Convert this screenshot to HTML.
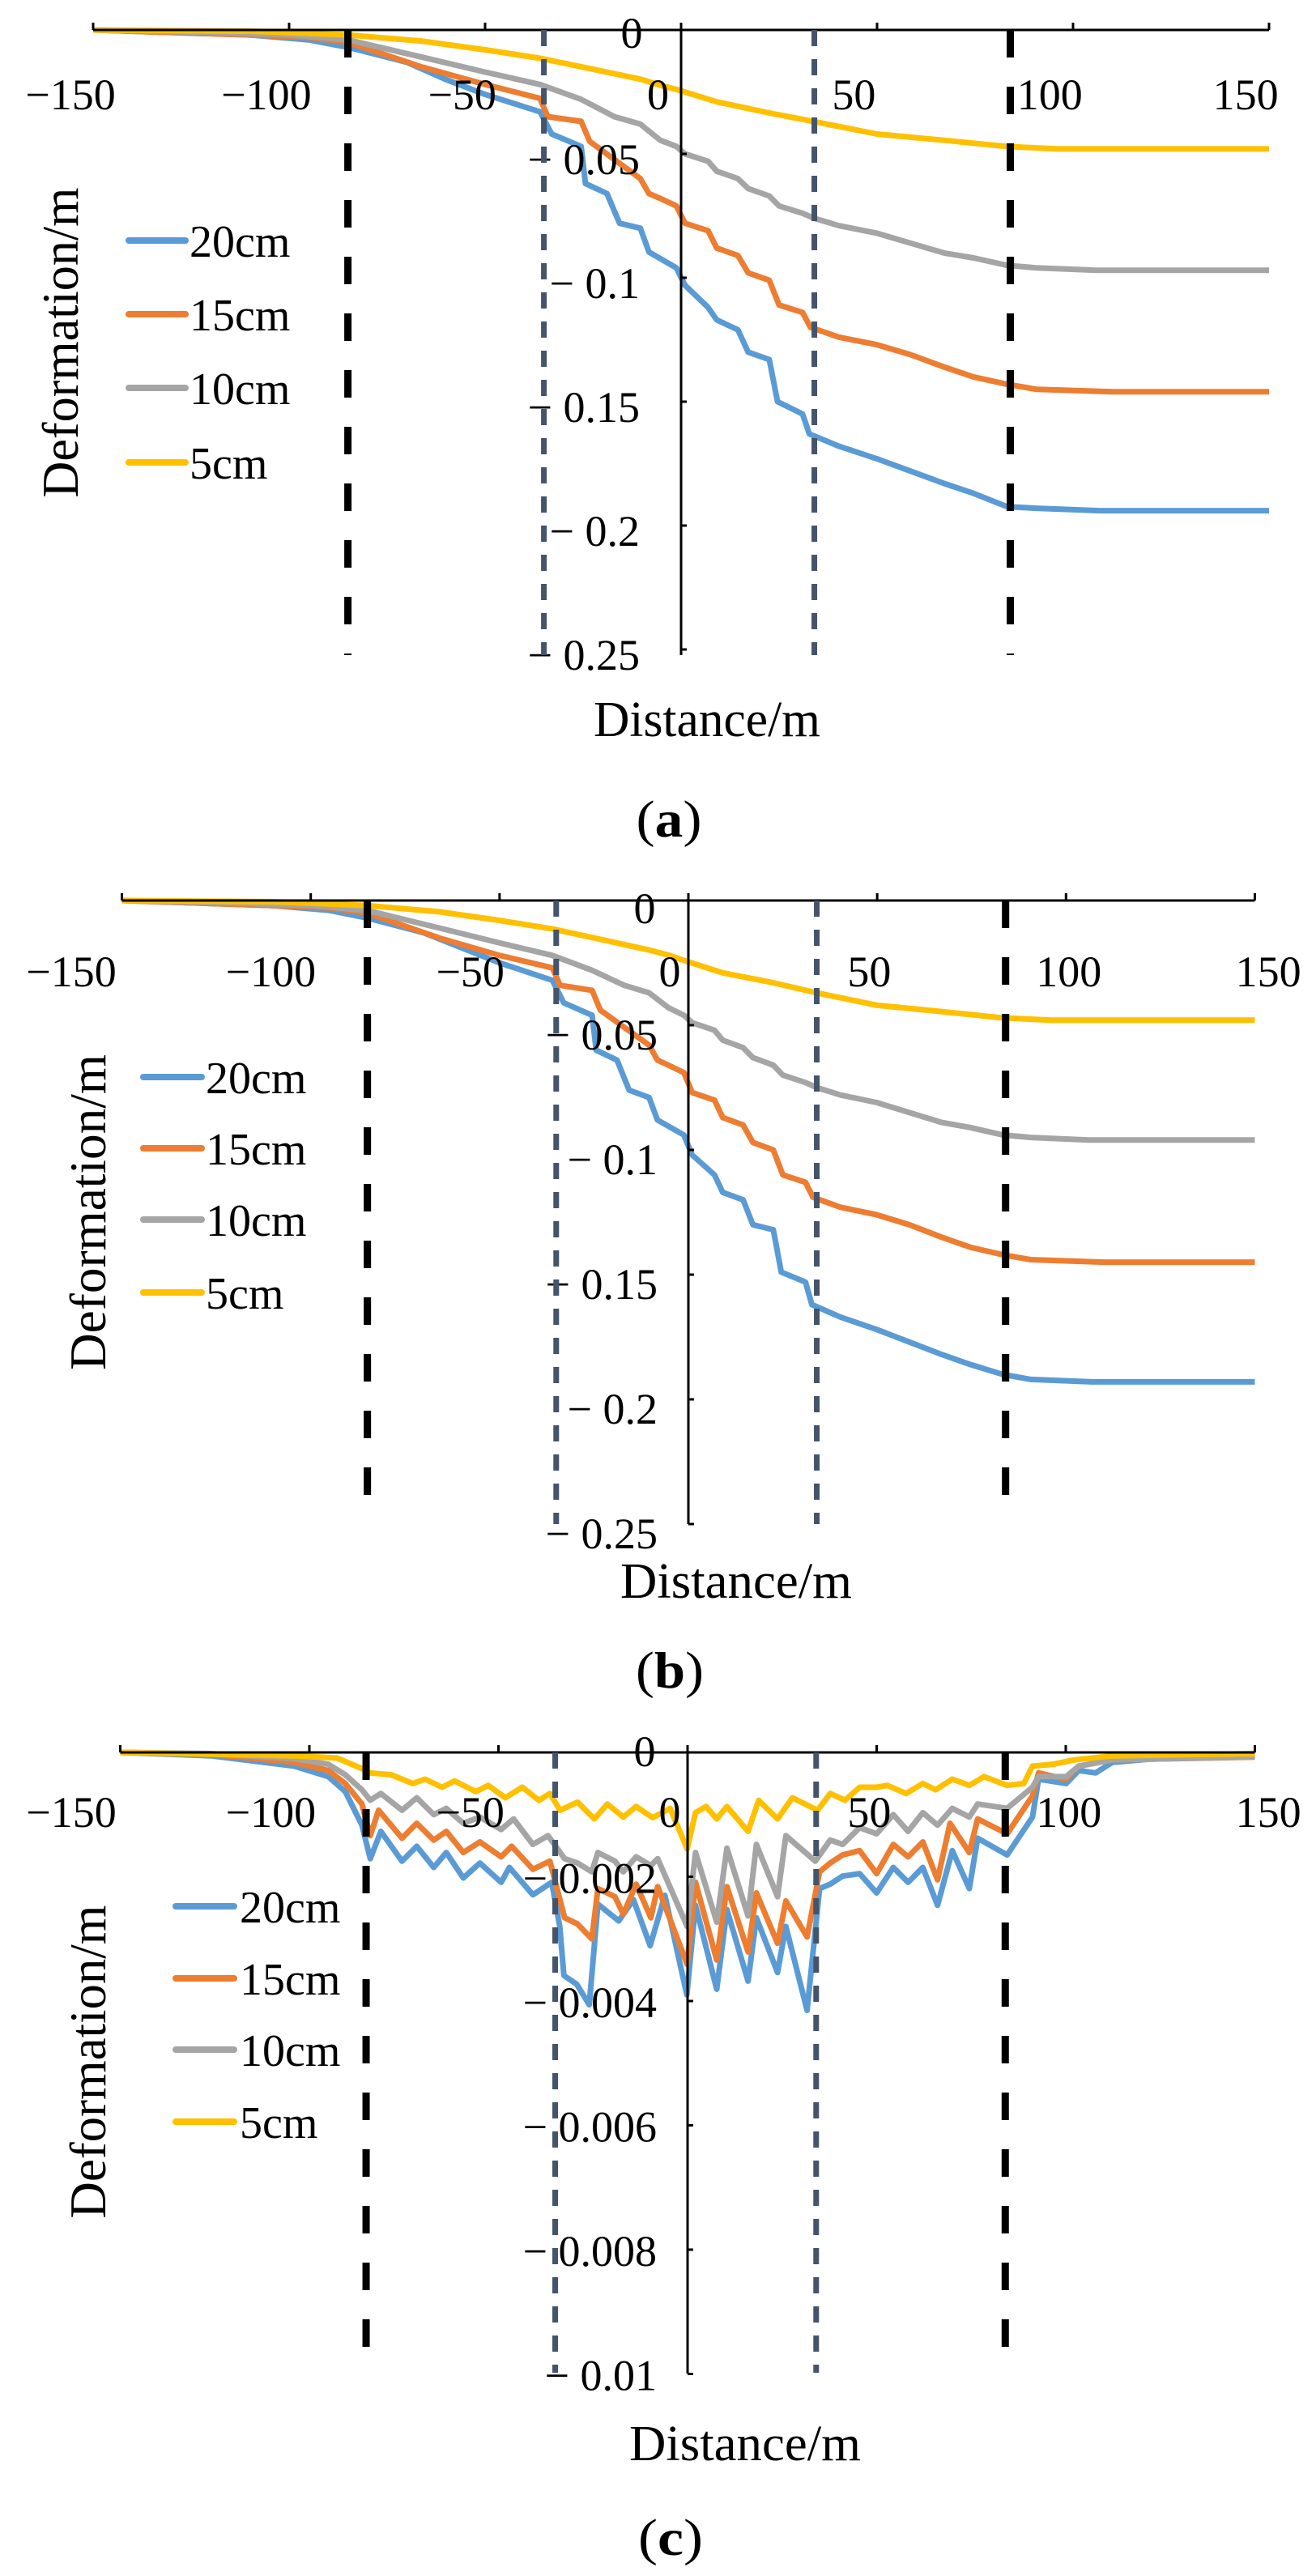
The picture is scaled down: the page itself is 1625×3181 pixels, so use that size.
<!DOCTYPE html>
<html><head><meta charset="utf-8">
<style>
html,body{margin:0;padding:0;background:#fff;}
svg{display:block;}
svg text{font-family:"Liberation Serif","DejaVu Serif",serif;fill:#000;}
</style></head>
<body>
<svg id="fig" width="1625" height="3181" viewBox="0 0 1625 3181" xmlns="http://www.w3.org/2000/svg" font-family="Liberation Serif, DejaVu Serif, serif"></svg>
<script>
// ---------- shared data ----------
const xTicks = [-150,-100,-50,0,50,100,150];
const seriesNames = ['20cm','15cm','10cm','5cm'];
const seriesColors = ['#5b9bd5','#ed7d31','#a5a5a5','#ffc000'];
const blackLines = [-85, 84];
const greyLines = [-35, 34];

// ---------- chart (a) ----------
const yTicksA = [0,-0.05,-0.1,-0.15,-0.2,-0.25];
const blueA = [[-150,0],[-130,-0.001],[-110,-0.002],[-95,-0.004],[-85,-0.007],[-70,-0.013],[-60,-0.020],[-50,-0.026],[-40,-0.031],[-36,-0.033],[-33,-0.042],[-25.5,-0.047],[-24.4,-0.062],[-18.9,-0.066],[-15.7,-0.078],[-10.4,-0.080],[-8.2,-0.0896],[-1.2,-0.096],[1,-0.103],[6.9,-0.112],[9.1,-0.117],[14.5,-0.121],[17.1,-0.130],[22.5,-0.133],[24.6,-0.150],[31,-0.155],[32.7,-0.163],[40.3,-0.168],[49.9,-0.173],[58.5,-0.178],[67.1,-0.183],[74.6,-0.187],[83.2,-0.1924],[90.7,-0.193],[106.8,-0.194],[150,-0.194]];
const orangeA = [[-150,0],[-130,-0.001],[-110,-0.002],[-95,-0.003],[-85,-0.005],[-66,-0.015],[-50,-0.022],[-36,-0.0276],[-34,-0.035],[-25.5,-0.0369],[-23.3,-0.045],[-10.4,-0.060],[-8.2,-0.066],[-5.3,-0.068],[-1.2,-0.071],[1,-0.078],[6.9,-0.081],[9.1,-0.088],[14.5,-0.091],[17.1,-0.098],[22.5,-0.101],[25,-0.111],[31,-0.114],[33,-0.120],[40.3,-0.124],[49.9,-0.127],[58.5,-0.131],[67.1,-0.136],[74.6,-0.140],[83.2,-0.143],[90.7,-0.145],[110,-0.146],[150,-0.146]];
const grayA = [[-150,0],[-120,-0.001],[-100,-0.002],[-85,-0.004],[-66,-0.011],[-50,-0.017],[-36,-0.022],[-25.5,-0.028],[-17,-0.035],[-10.4,-0.038],[-5.3,-0.0445],[-1.2,-0.047],[1,-0.050],[6.9,-0.053],[9.1,-0.057],[14.5,-0.060],[17.1,-0.064],[22.5,-0.067],[25,-0.071],[31,-0.074],[34,-0.076],[40.3,-0.079],[49.9,-0.082],[58.5,-0.086],[67.1,-0.090],[74.6,-0.092],[83.2,-0.095],[90.7,-0.096],[106,-0.097],[150,-0.097]];
const yellowA = [[-150,0],[-110,-0.0005],[-85,-0.002],[-66,-0.0045],[-50,-0.008],[-36,-0.0114],[-25,-0.015],[-10,-0.020],[-5,-0.0225],[-1.2,-0.024],[9.1,-0.029],[22.5,-0.0335],[34,-0.037],[50,-0.042],[67,-0.0445],[83,-0.047],[96,-0.048],[150,-0.048]];

// ---------- chart (b) ----------
const yTicksB = [0,-0.05,-0.1,-0.15,-0.2,-0.25];
const blueB = [[-150,0],[-130,-0.001],[-110,-0.002],[-95,-0.004],[-85,-0.007],[-70,-0.013],[-60,-0.019],[-50,-0.025],[-40,-0.030],[-36,-0.032],[-33,-0.041],[-25.5,-0.046],[-24.4,-0.060],[-18.9,-0.064],[-15.7,-0.076],[-10.4,-0.079],[-8.2,-0.088],[-1.2,-0.094],[1,-0.102],[6.9,-0.110],[9.1,-0.117],[14.5,-0.120],[17.1,-0.130],[22.5,-0.132],[24.6,-0.149],[31,-0.153],[32.7,-0.162],[40.3,-0.167],[49.9,-0.172],[58.5,-0.177],[67.1,-0.182],[74.6,-0.186],[83.2,-0.190],[90.7,-0.192],[106.8,-0.193],[150,-0.193]];
const orangeB = [[-150,0],[-130,-0.001],[-110,-0.002],[-95,-0.003],[-85,-0.005],[-66,-0.015],[-50,-0.022],[-36,-0.027],[-34,-0.034],[-25.5,-0.036],[-23.3,-0.044],[-10.4,-0.058],[-8.2,-0.064],[-5.3,-0.066],[-1.2,-0.069],[1,-0.077],[6.9,-0.080],[9.1,-0.087],[14.5,-0.090],[17.1,-0.097],[22.5,-0.100],[25,-0.110],[31,-0.113],[33,-0.119],[40.3,-0.123],[49.9,-0.126],[58.5,-0.130],[67.1,-0.135],[74.6,-0.139],[83.2,-0.142],[90.7,-0.144],[110,-0.145],[150,-0.145]];
const grayB = [[-150,0],[-120,-0.001],[-100,-0.002],[-85,-0.004],[-66,-0.011],[-50,-0.017],[-36,-0.022],[-25.5,-0.028],[-17,-0.034],[-10.4,-0.037],[-5.3,-0.043],[-1.2,-0.046],[1,-0.049],[6.9,-0.052],[9.1,-0.056],[14.5,-0.059],[17.1,-0.063],[22.5,-0.066],[25,-0.070],[31,-0.073],[34,-0.075],[40.3,-0.078],[49.9,-0.081],[58.5,-0.085],[67.1,-0.089],[74.6,-0.091],[83.2,-0.094],[90.7,-0.095],[106,-0.096],[150,-0.096]];
const yellowB = [[-150,0],[-110,-0.0005],[-85,-0.002],[-66,-0.0045],[-50,-0.008],[-36,-0.0114],[-25,-0.015],[-10,-0.020],[-5,-0.022],[-1.2,-0.024],[9.1,-0.029],[22.5,-0.033],[34,-0.037],[50,-0.042],[67,-0.0445],[83,-0.047],[96,-0.048],[150,-0.048]];

// ---------- chart (c) ----------
const yTicksC = [0,-0.002,-0.004,-0.006,-0.008,-0.01];
const blueC = [[-150,0],[-126,-0.000055],[-104,-0.00022],[-95,-0.00039],[-90.5,-0.00063],[-86.1,-0.00117],[-83.9,-0.00171],[-81.1,-0.00127],[-75.5,-0.00175],[-71.6,-0.00151],[-67.1,-0.00185],[-63.8,-0.00161],[-59.3,-0.00202],[-54.9,-0.00178],[-49.3,-0.00209],[-47.1,-0.00185],[-40.9,-0.00229],[-35.9,-0.00209],[-33.8,-0.00280],[-32.7,-0.00359],[-29.3,-0.00373],[-26,-0.00406],[-23.7,-0.00244],[-18.2,-0.00271],[-14.3,-0.00237],[-9.9,-0.00311],[-6,-0.00230],[-0.2,-0.00390],[2.1,-0.00246],[7.7,-0.00381],[10.4,-0.00253],[16,-0.00368],[18.2,-0.00266],[23.8,-0.00354],[26,-0.00280],[31.6,-0.00415],[34.9,-0.00219],[37.7,-0.00212],[41,-0.00199],[45.5,-0.00195],[50,-0.00226],[54.4,-0.00185],[58.3,-0.00209],[62.2,-0.00185],[66.1,-0.00246],[70,-0.00158],[74.5,-0.00219],[76.7,-0.00138],[84.5,-0.00165],[91.2,-0.00104],[92.8,-0.00043],[100.1,-0.00050],[103.4,-0.00029],[107.9,-0.00033],[112.3,-0.00016],[125.7,-0.00009],[150,-0.000055]];
const orangeC = [[-150,0],[-126,-0.00003],[-104,-0.00016],[-95,-0.00029],[-90.5,-0.00050],[-86.1,-0.00083],[-83.9,-0.00134],[-81.7,-0.00093],[-75.5,-0.00138],[-71.6,-0.00114],[-67.1,-0.00141],[-63.8,-0.00127],[-59.3,-0.00161],[-54.9,-0.00144],[-49.3,-0.00168],[-46.5,-0.00151],[-40.9,-0.00188],[-36.4,-0.00175],[-32.5,-0.00266],[-29.1,-0.00276],[-25.3,-0.00300],[-23.7,-0.00219],[-19.2,-0.00232],[-17,-0.00260],[-13.6,-0.00212],[-9.7,-0.00266],[-7.9,-0.00216],[-0.1,-0.00341],[2.1,-0.00209],[7.7,-0.00334],[10.4,-0.00216],[16,-0.00321],[18.2,-0.00226],[23.8,-0.00307],[26,-0.00239],[31.6,-0.00297],[34.9,-0.00192],[37.7,-0.00178],[41,-0.00165],[45.5,-0.00158],[50,-0.00195],[54.4,-0.00148],[58.3,-0.00168],[62.2,-0.00144],[66.1,-0.00205],[69.4,-0.00114],[74.5,-0.00161],[76.7,-0.00107],[84.5,-0.00131],[91.2,-0.00070],[92.8,-0.00033],[100.1,-0.00043],[103.4,-0.00022],[112.3,-0.00012],[150,-0.000075]];
const grayC = [[-150,0],[-126,-0.00002],[-104,-0.00010],[-95,-0.00019],[-90.5,-0.00036],[-86.1,-0.00060],[-83.9,-0.00077],[-81.1,-0.00066],[-75.5,-0.00093],[-71.6,-0.00073],[-67.1,-0.00100],[-63.8,-0.00090],[-59.3,-0.00114],[-54.9,-0.00104],[-49.3,-0.00124],[-46,-0.00107],[-40.9,-0.00148],[-36.9,-0.00134],[-32.5,-0.00171],[-29.1,-0.00178],[-25.3,-0.00192],[-23.7,-0.00161],[-19.2,-0.00175],[-17,-0.00192],[-13.6,-0.00168],[-9.7,-0.00182],[-7.9,-0.00171],[-0.1,-0.00280],[2.1,-0.00161],[7.7,-0.00273],[10.4,-0.00154],[16,-0.00263],[18.2,-0.00148],[23.8,-0.00232],[26,-0.00134],[33.8,-0.00175],[37.7,-0.00141],[41,-0.00148],[45.5,-0.00121],[50,-0.00131],[54.4,-0.00100],[58.3,-0.00127],[62.2,-0.00097],[66.1,-0.00117],[70,-0.00090],[74.5,-0.00104],[76.7,-0.00083],[84.5,-0.00090],[91.2,-0.00056],[92.8,-0.00039],[100.1,-0.00039],[103.4,-0.00022],[112.3,-0.00012],[150,-0.00007]];
const yellowC = [[-150,0],[-104,-0.000055],[-92.7,-0.00009],[-86.1,-0.00026],[-83.9,-0.00033],[-78.3,-0.00036],[-72.7,-0.00050],[-69.4,-0.00043],[-64.9,-0.00056],[-61.6,-0.00046],[-56,-0.00063],[-52.7,-0.00053],[-48.2,-0.00073],[-43.7,-0.00056],[-39.3,-0.00077],[-36.4,-0.00066],[-33.7,-0.00093],[-29.1,-0.00080],[-24.6,-0.00107],[-21.2,-0.00083],[-17,-0.00104],[-13.6,-0.00087],[-9.2,-0.00105],[-4.6,-0.00090],[-0.1,-0.00155],[2.1,-0.00097],[4.9,-0.00087],[7.7,-0.00107],[10.4,-0.00087],[16,-0.00127],[18.8,-0.00077],[23.8,-0.00107],[27.7,-0.00073],[34.4,-0.00093],[37.7,-0.00066],[41.6,-0.00077],[45.5,-0.00056],[50,-0.00056],[52.8,-0.00053],[57.8,-0.00066],[62.2,-0.00050],[65.6,-0.00060],[70,-0.00043],[74.5,-0.00053],[78.4,-0.00039],[84.5,-0.00053],[88.9,-0.00050],[91.2,-0.00022],[96.7,-0.00019],[102.3,-0.00012],[112.3,-0.000055],[150,-0.00002]];

// ---------- drawing ----------
const NS = 'http://www.w3.org/2000/svg';
const FONT = '"Liberation Serif", "DejaVu Serif", serif';
const svg = document.getElementById('fig');
function mk(tag, attrs, parent){
  const e = document.createElementNS(NS, tag);
  for (const k in attrs) e.setAttribute(k, attrs[k]);
  if (tag === 'text') e.setAttribute('font-family', FONT);
  (parent||svg).appendChild(e);
  return e;
}
function fmt(v, dec){ return v===0 ? '0' : '\u2212 ' + Math.abs(v).toFixed(dec).replace(/0+$/,'').replace(/\.$/,''); }

const charts = [
  {id:'a', x0:841, sx:4.84, y0:37, sy:3060, bottom:809, yTicks:yTicksA, dec:2,
   series:[blueA,orangeA,grayA,yellowA], lab0:87, labS:4.837, labY:117, yLabRight:790, yLabOff:7, zero:[780,41],
   leg:[159,229,234,[297,388,479,571]], title:[75,423,383], dist:[873,889,280], cap:[826,1011,81,'(a)'], blackEnd:809, greyEnd:809},
  {id:'b', x0:850, sx:4.663, y0:1112, sy:3080, bottom:1882, yTicks:yTicksB, dec:2,
   series:[blueB,orangeB,grayB,yellowB], lab0:88, labS:4.927, labY:1200, yLabRight:812, yLabOff:12, zero:[796,1122],
   leg:[177,249,254,[1330,1418,1506,1596]], title:[109,1497,390], dist:[909,1953,286], cap:[827,2062,84,'(b)'], blackEnd:1855, greyEnd:1882},
  {id:'c', x0:849, sx:4.67, y0:2164, sy:76750, bottom:2931, yTicks:yTicksC, dec:3,
   series:[blueC,orangeC,grayC,yellowC], lab0:88, labS:4.927, labY:2238, yLabRight:811, yLabOff:2, zero:[796,2163],
   leg:[217,289,296,[2354,2443,2531,2620]], title:[109,2546,387], dist:[920,3018,286], cap:[828,3133,80,'(c)'], blackEnd:2904, greyEnd:2930}
];

charts.forEach(c => {
  const X = v => c.x0 + v*c.sx;
  const Y = v => c.y0 - v*c.sy;
  const g = mk('g', {});
  
  

  // series lines
  c.series.forEach((s, i) => {
    const p = mk('polyline', {points: s.map(d => X(d[0]).toFixed(1)+','+Y(d[1]).toFixed(1)).join(' '),
      fill:'none', stroke:seriesColors[i], 'stroke-width':7, 'stroke-linejoin':'round'}, g);
    
    
  });

  // x axis
  const xa = mk('line', {x1:X(-150), y1:c.y0, x2:X(150), y2:c.y0, stroke:'#000', 'stroke-width':3}, g);
  
  
  xTicks.forEach(t => {
    const tk = mk('line', {x1:X(t), y1:c.y0, x2:X(t), y2:c.y0-9, stroke:'#000', 'stroke-width':3}, g);
    
    
    const tl = mk('text', {x:c.lab0 + (t+150)*c.labS, y:c.labY, 'font-size':54, 'text-anchor':'middle', 'dominant-baseline':'central'}, g);
    tl.textContent = t < 0 ? '\u2212' + Math.abs(t) : String(t);
    
    
  });

  // y axis
  const ya = mk('line', {x1:X(0), y1:c.y0, x2:X(0), y2:c.bottom, stroke:'#000', 'stroke-width':3}, g);
  
  
  c.yTicks.forEach(t => {
    const tk = mk('line', {x1:X(0), y1:Y(t), x2:X(0)+7, y2:Y(t), stroke:'#000', 'stroke-width':3}, g);
    
    
    let tl;
    if (t === 0) tl = mk('text', {x:c.zero[0], y:c.zero[1], 'font-size':54, 'text-anchor':'middle', 'dominant-baseline':'central'}, g);
    else tl = mk('text', {x:c.yLabRight, y:Y(t)+c.yLabOff, 'font-size':54, 'text-anchor':'end', 'dominant-baseline':'central'}, g);
    tl.textContent = fmt(t, c.dec);
    
    
  });

  // dashed reference lines
  blackLines.forEach(v => {
    const l = mk('line', {x1:X(v), y1:c.y0, x2:X(v), y2:c.blackEnd, stroke:'#000', 'stroke-width':9, 'stroke-dasharray':'34 36'}, g);
    
    
  });
  greyLines.forEach(v => {
    const l = mk('line', {x1:X(v), y1:c.y0, x2:X(v), y2:c.greyEnd, stroke:'#44546a', 'stroke-width':7, 'stroke-dasharray':'20 16'}, g);
    
    
  });

  // legend
  seriesNames.forEach((n, i) => {
    const ly = c.leg[3][i];
    const ll = mk('line', {x1:c.leg[0], y1:ly, x2:c.leg[1], y2:ly, stroke:seriesColors[i], 'stroke-width':8, 'stroke-linecap':'round'}, g);
    
    
    const lt = mk('text', {x:c.leg[2], y:ly+2, 'font-size':56, 'dominant-baseline':'central'}, g);
    lt.textContent = n;
    
    
  });

  // titles
  const yt = mk('text', {x:0, y:0, 'font-size':63, 'text-anchor':'middle', 'dominant-baseline':'central',
    textLength:c.title[2], lengthAdjust:'spacingAndGlyphs', transform:'translate('+c.title[0]+','+c.title[1]+') rotate(-90)'}, g);
  yt.textContent = 'Deformation/m';
  
  
  const xt = mk('text', {x:c.dist[0], y:c.dist[1], 'font-size':62, 'text-anchor':'middle', 'dominant-baseline':'central',
    textLength:c.dist[2], lengthAdjust:'spacingAndGlyphs'}, g);
  xt.textContent = 'Distance/m';
  
  
  const cp = mk('text', {x:c.cap[0], y:c.cap[1], 'font-size':64, 'text-anchor':'middle', 'dominant-baseline':'central',
    textLength:c.cap[2], lengthAdjust:'spacingAndGlyphs'}, g);
  cp.innerHTML = '(<tspan font-weight="bold">' + c.id + '</tspan>)';
  
  
});
</script>
</body></html>
